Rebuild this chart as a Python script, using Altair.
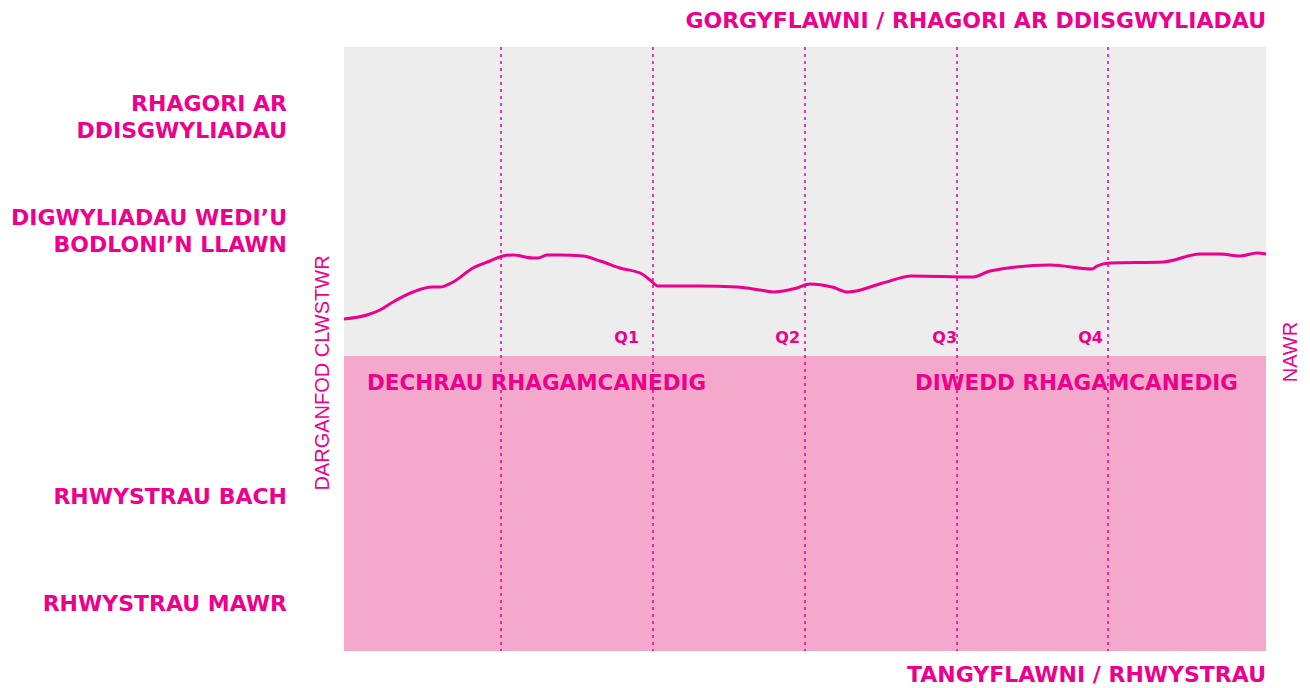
import altair as alt
import pandas as pd

PINK = "#EC008C"
BAND = "#F4A8CB"
GREY = "#EDEDED"
FONT = "DejaVu Sans"
THIN = "Liberation Sans"

# progress line (time 0..100, level 0..100)
line_x = [0, 2.49, 3.90, 5.31, 7.48, 9.54, 10.41, 11.82, 13.99, 15.84, 17.25, 18.33,
          20.50, 21.04, 22.02, 23.43, 25.92, 27.77, 29.93, 32.32, 33.19, 34.06, 35.03,
          38.61, 42.62, 45.12, 46.53, 49.13, 50.54, 52.93, 54.66, 58.46, 61.61, 68.22,
          70.07, 76.57, 81.13, 81.67, 83.08, 88.83, 92.84, 95.01, 97.18, 99.02, 100]
line_y = [54.97, 55.63, 56.46, 57.78, 59.44, 60.26, 60.26, 61.09, 63.41, 64.57, 65.40, 65.56,
          65.07, 65.07, 65.56, 65.56, 65.40, 64.57, 63.41, 62.42, 61.42, 60.43, 60.43,
          60.43, 60.26, 59.77, 59.44, 60.10, 60.76, 60.26, 59.44, 60.93, 62.09, 61.92,
          62.91, 63.91, 63.25, 63.74, 64.24, 64.40, 65.73, 65.73, 65.40, 65.89, 65.73]

quarter_x = [17.03, 33.51, 50.0, 66.49, 82.86]
band_top = 48.84

left_labels = ["RHAGORI AR\nDDISGWYLIADAU", "DIGWYLIADAU WEDI\u2019U\nBODLONI\u2019N LLAWN",
               "RHWYSTRAU BACH", "RHWYSTRAU MAWR"]
left_levels = [90.56, 71.7, 25.5, 7.8]

xs = alt.Scale(domain=[0, 100], nice=False, zero=False)
ys = alt.Scale(domain=[0, 100], nice=False, zero=False)

line_df = pd.DataFrame({"x": line_x, "y": line_y})
q_df = pd.DataFrame({"x": quarter_x})

bg = alt.Chart(pd.DataFrame({"x": [0], "x2": [100], "y": [band_top], "y2": [100]})).mark_rect(
    color=GREY).encode(x=alt.X("x:Q", scale=xs, axis=None), x2="x2:Q",
                       y=alt.Y("y:Q", scale=ys, axis=None), y2="y2:Q")
band = alt.Chart(pd.DataFrame({"x": [0], "x2": [100], "y": [0], "y2": [band_top]})).mark_rect(
    color=BAND).encode(x=alt.X("x:Q", scale=xs, axis=None), x2="x2:Q",
                       y=alt.Y("y:Q", scale=ys, axis=None), y2="y2:Q")

rules = alt.Chart(q_df).mark_rule(color=PINK, strokeWidth=1.5, strokeDash=[3, 4]).encode(
    x=alt.X("x:Q", scale=xs, axis=None))

line = alt.Chart(line_df).mark_line(color=PINK, strokeWidth=3, interpolate="monotone").encode(
    x=alt.X("x:Q", scale=xs, axis=None), y=alt.Y("y:Q", scale=ys, axis=None))

# quarter labels
ql_df = pd.DataFrame({"t": ["Q1", "Q2", "Q3", "Q4"], "x": [32.0, 49.46, 66.49, 82.32]})
qlabels = alt.Chart(ql_df).mark_text(color=PINK, font=FONT, fontWeight="bold", fontSize=16,
                                     align="right", baseline="middle").encode(
    x=alt.X("x:Q", scale=xs, axis=None), y=alt.value(604 - 51.8 * 6.04), text="t:N")

left_df = pd.DataFrame({"t": left_labels, "y": left_levels})
left = alt.Chart(left_df).mark_text(color=PINK, font=FONT, fontWeight="bold", fontSize=22,
                                    align="right", baseline="middle", lineBreak="\n",
                                    lineHeight=27).encode(
    x=alt.value(-57), y=alt.Y("y:Q", scale=ys, axis=None), text="t:N")

band_df = pd.DataFrame({"t": ["DECHRAU RHAGAMCANEDIG", "DIWEDD RHAGAMCANEDIG"],
                        "x": [2.49, 61.93]})
bandtext = alt.Chart(band_df).mark_text(color=PINK, font=FONT, fontWeight="bold", fontSize=21.5,
                                        align="left", baseline="middle").encode(
    x=alt.X("x:Q", scale=xs, axis=None), y=alt.value(604 - 44.2 * 6.04), text="t:N")

top_t = alt.Chart(pd.DataFrame({"t": ["GORGYFLAWNI / RHAGORI AR DDISGWYLIADAU"]})).mark_text(
    color=PINK, font=FONT, fontWeight="bold", fontSize=22, align="right", baseline="middle").encode(
    x=alt.value(922), y=alt.value(-26), text="t:N")
bot_t = alt.Chart(pd.DataFrame({"t": ["TANGYFLAWNI / RHWYSTRAU"]})).mark_text(
    color=PINK, font=FONT, fontWeight="bold", fontSize=22, align="right", baseline="middle").encode(
    x=alt.value(922), y=alt.value(628), text="t:N")

side_l = alt.Chart(pd.DataFrame({"t": ["DARGANFOD CLWSTWR"]})).mark_text(
    color=PINK, font=THIN, fontSize=20, angle=270, align="center", baseline="middle").encode(
    x=alt.value(-21), y=alt.value(326), text="t:N")
side_r = alt.Chart(pd.DataFrame({"t": ["NAWR"]})).mark_text(
    color=PINK, font=THIN, fontSize=20, angle=270, align="center", baseline="middle").encode(
    x=alt.value(947), y=alt.value(305), text="t:N")

chart = alt.layer(bg, band, rules, line, qlabels, left, bandtext, top_t, bot_t, side_l, side_r
                  ).properties(
    width=922, height=604,
    autosize=alt.AutoSizeParams(type="none"),
    padding={"left": 336, "top": 39, "right": 36, "bottom": 37},
    background="white",
).configure_view(stroke=None)

chart.save("out.html", embed_options={"renderer": "svg", "actions": False})
